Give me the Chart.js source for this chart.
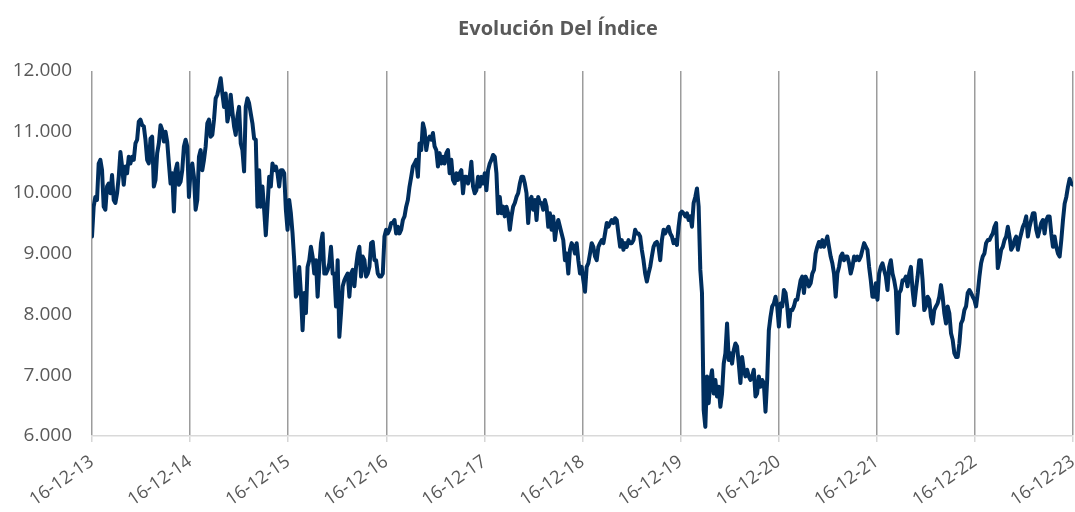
<!DOCTYPE html>
<html>
<head>
<meta charset="utf-8">
<script src="https://cdn.jsdelivr.net/npm/chart.js@4.4.0/dist/chart.umd.min.js"></script>
<style>
  html, body { margin: 0; padding: 0; background: #fff; }
  #wrap { width: 1075px; height: 512px; }
</style>
</head>
<body>
<div id="wrap"><canvas id="chart"></canvas></div>
<script>
// tick labels for each year boundary (x axis)
const yearLabels = ['16-12-13', '16-12-14', '16-12-15', '16-12-16', '16-12-17', '16-12-18',
                    '16-12-19', '16-12-20', '16-12-21', '16-12-22', '16-12-23'];
const yMin = 6000;
const yMax = 12000;
const yStep = 1000;
const spanYears = 10;
const titleText = 'Evolución Del Índice';

// index level, roughly weekly readings from 16-12-13 to 16-12-23
const indexValues = [
  9280, 9770, 9930, 9880, 10480, 10540, 10370, 9770, 9720, 10100,
  10150, 9990, 10290, 9880, 9830, 9990, 10260, 10670, 10430, 10130,
  10430, 10320, 10590, 10480, 10590, 10540, 10810, 10870, 11170, 11200,
  11110, 11090, 10870, 10540, 10480, 10890, 10920, 10100, 10210, 10650,
  10810, 11110, 11030, 10840, 11000, 10840, 10480, 10150, 10320, 9690,
  10370, 10480, 10130, 10180, 10370, 10760, 10870, 10760, 9930, 10370,
  10480, 10260, 9720, 9880, 10590, 10700, 10370, 10540, 10760, 11140,
  11200, 10920, 10950, 11200, 11550, 11610, 11740, 11880, 11630, 11410,
  11630, 11170, 11300, 11610, 11330, 11090, 10950, 11250, 11410, 10810,
  10700, 10350, 11410, 11550,
  11470, 11300, 11140, 10890, 10870, 9770, 10370, 9770, 10100, 9720,
  9300, 9770, 10260, 10100, 10480, 10370, 10430, 10320, 10100, 10370,
  10370, 10320, 9720, 9390, 9880, 9660, 9330, 8890, 8290, 8350,
  8780, 8350, 7740, 8350, 8020, 8780, 8890, 9110, 8950, 8670,
  8890, 8290, 8780, 9170, 9330, 8670, 8670, 8730, 8840, 9110,
  8670, 8670, 8130, 8890, 7630, 8020, 8460, 8560, 8620, 8670,
  8290, 8670, 8730, 8460, 8780, 9000, 9110, 8620, 8950, 8890,
  8620, 8670, 8780, 9170, 9190, 8890, 8890, 8670, 8620, 8620,
  8670, 9280, 9390, 9330, 9390, 9500, 9500, 9550, 9330, 9440,
  9330, 9390, 9550, 9610, 9770, 9880, 10100,
  10260, 10430, 10480, 10540, 10260, 10810, 10700, 11140, 11030, 10700,
  10870, 10920, 10870, 10980, 10760, 10700, 10430, 10650, 10480, 10590,
  10480, 10650, 10700, 10320, 10540, 10210, 10150, 10320, 10210, 10320,
  10370, 9990, 10260, 10260, 10150, 10260, 10510, 10100, 9990, 10040,
  10260, 10100, 10260, 10150, 10320, 10040, 10370, 10480, 10540, 10620,
  10590, 10320, 9660, 9930, 9660, 9770, 9610, 9770, 9660, 9390,
  9610, 9770, 9830, 9930, 9990, 10150, 10260, 10260, 10150, 9990,
  9500, 9880, 9930, 9720, 9880, 9550, 9930, 9830, 9830, 9720,
  9880, 9770, 9440, 9660, 9390, 9610, 9220, 9440, 9550, 9440,
  9330, 9220, 8890, 9000, 8670, 9060, 9170,
  9110, 9000, 9170, 8890, 8670, 8780, 8560, 8370, 8780, 8840,
  9000, 9170, 9110, 8950, 8890, 9110, 9170, 9220, 9170, 9330,
  9500, 9440, 9500, 9550, 9500, 9580, 9550, 9330, 9110, 9220,
  9060, 9170, 9110, 9220, 9170, 9170, 9220, 9390, 9330, 9330,
  9280, 9060, 8890, 8670, 8540, 8670, 8780, 8950, 9110, 9170,
  9190, 9110, 8890, 9220, 9390, 9330, 9390, 9440, 9330, 9280,
  9170, 9220, 9140, 9440, 9660, 9690, 9660, 9610, 9660, 9550,
  9610, 9440, 9830, 9930, 10070, 9770, 8730, 8350, 6430, 6150,
  6980, 6540, 6920, 7080, 6700, 6920, 6650, 6810, 6480, 6700,
  7190, 7360, 7850, 7250, 7360, 7190, 7410,
  7520, 7470, 7190, 6870, 7300, 7090, 6980, 7090, 6980, 6920,
  6980, 7090, 6650, 6700, 6980, 6810, 6920, 6870, 6400, 6920,
  7740, 7960, 8130, 8180, 8290, 8130, 7800, 8180, 8130, 8400,
  8350, 8130, 7800, 8070, 8070, 8130, 8240, 8240, 8400, 8560,
  8620, 8350, 8620, 8560, 8460, 8510, 8670, 8730, 9000, 9110,
  9190, 9110, 9220, 9110, 9190, 9280, 9110, 8950, 8840, 8670,
  8290, 8670, 8780, 8950, 9000, 8890, 8950, 8950, 8840, 8670,
  8780, 8950, 8890, 8950, 8890, 8950, 9060, 9170, 9110, 9060,
  8780, 8560, 8290, 8290, 8510, 8240, 8670, 8780, 8840, 8730,
  8620, 8400, 8780, 8890, 8670, 8560, 8400,
  7690, 8350, 8400, 8560, 8560, 8620, 8460, 8670, 8780, 8400,
  8150, 8400, 8620, 8890, 8890, 8560, 8070, 8130, 8290, 8240,
  7960, 7850, 8070, 8130, 8180, 8290, 8480, 8290, 8020, 7850,
  8130, 8020, 7690, 7580, 7360, 7300, 7300, 7520, 7850, 7910,
  8070, 8130, 8350, 8400, 8350, 8290, 8240, 8130, 8350, 8620,
  8840, 8950, 9000, 9170, 9220, 9220, 9280, 9330, 9440, 9500,
  8760, 8890, 9060, 9110, 9220, 9280, 9440, 9280, 9060, 9110,
  9220, 9280, 9060, 9220, 9330, 9440, 9500, 9610, 9280, 9440,
  9550, 9660, 9660, 9390, 9280, 9390, 9500, 9550, 9330, 9550,
  9610, 9610, 9330, 9110, 9280, 9110, 9000, 8950, 9220, 9550,
  9820, 9930, 10100, 10230, 10150, 10130
];

const points = indexValues.map((v, i) => ({ x: i * spanYears / (indexValues.length - 1), y: v }));

const textColor = '#595959';
const fontFamily = "'Open Sans', 'Liberation Sans', sans-serif";

// title is centred a little right of the canvas middle, like the original
const titlePlugin = {
  id: 'chartTitle',
  afterDraw(chart) {
    const ctx = chart.ctx;
    ctx.save();
    ctx.font = `bold 20px ${fontFamily}`;
    ctx.fillStyle = textColor;
    ctx.textAlign = 'center';
    ctx.textBaseline = 'middle';
    ctx.fillText(titleText, 558, 29);
    ctx.restore();
  }
};

new Chart(document.getElementById('chart'), {
  type: 'line',
  data: {
    datasets: [{
      data: points,
      borderColor: '#002E5E',
      borderWidth: 4,
      pointRadius: 0,
      tension: 0,
      borderJoinStyle: 'round',
      borderCapStyle: 'round'
    }]
  },
  options: {
    responsive: true,
    maintainAspectRatio: false,
    animation: false,
    layout: { padding: { left: 0, right: 0, top: 71, bottom: 0 } },
    plugins: {
      legend: { display: false },
      tooltip: { enabled: false },
      title: { display: false }
    },
    scales: {
      x: {
        type: 'linear',
        min: 0,
        max: spanYears,
        ticks: {
          stepSize: 1,
          autoSkip: false,
          maxRotation: 35,
          minRotation: 35,
          color: textColor,
          font: { family: fontFamily, size: 18 },
          padding: 9,
          callback: v => yearLabels[v]
        },
        grid: { color: '#9C9C9C', lineWidth: 1.5, tickLength: 6, tickColor: '#D6D6D6' },
        border: { color: '#D9D9D9', width: 1.5 },
        afterFit(s) { s.height = 76; s.paddingLeft = 0; s.paddingRight = 2; s.paddingTop = 0; }
      },
      y: {
        min: yMin,
        max: yMax,
        ticks: {
          stepSize: yStep,
          color: textColor,
          font: { family: fontFamily, size: 19 },
          padding: 20,
          callback: v => (v / 1000).toFixed(3)
        },
        grid: { display: false, drawTicks: false },
        border: { display: false },
        afterFit(s) { s.width = 92; s.paddingTop = 0; }
      }
    }
  },
  plugins: [titlePlugin]
});
</script>
</body>
</html>
